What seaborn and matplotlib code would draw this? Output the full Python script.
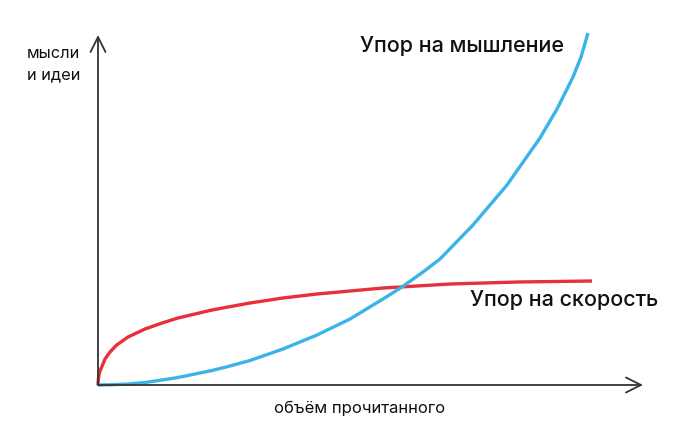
import matplotlib
matplotlib.use("Agg")
import matplotlib.pyplot as plt
import seaborn as sns
import pandas as pd

# Data (x = reading volume, y = thoughts & ideas)
blue_x = [0, 14, 30, 47, 64, 80, 97, 114, 130, 152, 185, 219, 252, 285, 304, 325,
          342, 375, 409, 442, 459, 475, 483, 490]
blue_y = [0, 0.3, 1, 2.5, 5, 7.5, 11, 14.5, 18.5, 24.5, 36, 50, 66, 86, 98, 113,
          126, 160, 200, 247, 276, 308, 328, 352]
red_x = [0, 0.3, 1, 2, 3.7, 7, 12, 18.7, 30, 47, 64, 80, 97, 114, 130, 152, 185, 219,
         252, 285, 319, 352, 420, 494]
red_y = [0, 5, 10, 14, 18, 26, 33, 40, 48, 56, 62, 67, 71, 75, 78, 82, 87, 91,
         94, 97, 99, 101, 103, 104]

label_blue = "Упор на мышление"
label_red = "Упор на скорость"
x_label = "объём прочитанного"
y_label = "мысли\nи идеи"
axis_x_end = 545
axis_y_end = 350

sns.set_theme(style="white")
plt.rcParams['font.family'] = ['Inter', 'DejaVu Sans']

fig = plt.figure(figsize=(6.9, 4.42), dpi=100)
ax = fig.add_axes([0, 0, 1, 1])
ax.set_xlim(-98, 592)
ax.set_ylim(-57, 385)
ax.axis("off")

dfb = pd.DataFrame({"x": blue_x, "y": blue_y})
dfr = pd.DataFrame({"x": red_x, "y": red_y})

arrow_kw = dict(arrowstyle="->,head_length=0.9,head_width=0.45", color="#333333", lw=1.3,
                shrinkA=0, shrinkB=0)
ax.annotate("", xy=(axis_x_end, 0), xytext=(0, 0), arrowprops=arrow_kw)
ax.annotate("", xy=(0, axis_y_end), xytext=(0, 0), arrowprops=arrow_kw)

sns.lineplot(data=dfr, x="x", y="y", ax=ax, color="#E8303A", lw=2.4, sort=False,
             estimator=None, solid_capstyle="butt", solid_joinstyle="round")
sns.lineplot(data=dfb, x="x", y="y", ax=ax, color="#3AB4E8", lw=2.4, sort=False,
             estimator=None, solid_capstyle="butt", solid_joinstyle="round")

ax.text(262, 339, label_blue, fontsize=15.5, fontweight="medium", color="#111111",
        ha="left", va="center")
ax.text(372, 85, label_red, fontsize=15.5, fontweight="medium", color="#111111",
        ha="left", va="center")
ax.text(262, -23, x_label, fontsize=12, color="#111111", ha="center", va="center")
ax.text(-71, 321, y_label, fontsize=11.8, color="#111111", ha="left", va="center",
        linespacing=1.5)

fig.savefig("out.png", dpi=100)
